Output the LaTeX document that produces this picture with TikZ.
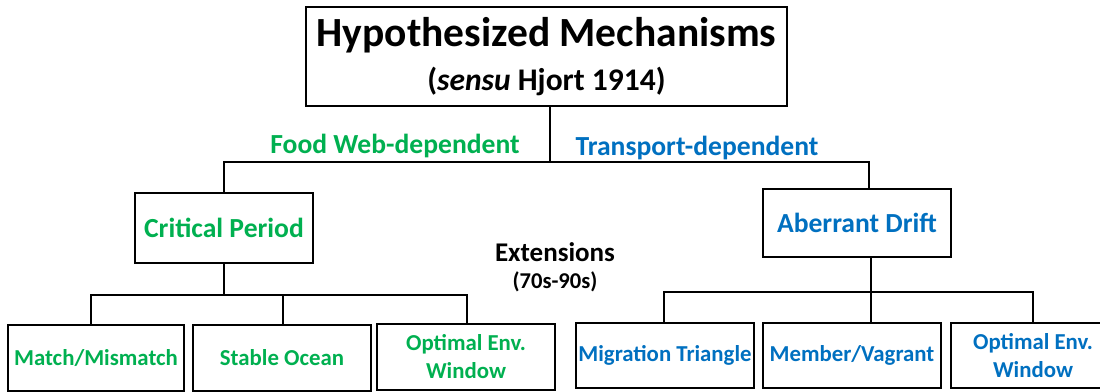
\documentclass[tikz,border=0pt]{standalone}
\usepackage{fontspec}
\setmainfont{Carlito}
\definecolor{cgreen}{HTML}{00B050}
\definecolor{cblue}{HTML}{0070C0}
\begin{document}
\begin{tikzpicture}[x=1pt,y=-1pt,
  box/.style={draw,line width=2.4pt,inner sep=0pt,align=center},
  conn/.style={line width=2.4pt},
  midtext/.style={font=\fontsize{27.6}{30}\selectfont\bfseries},
  lowtext/.style={font=\fontsize{22.8}{28}\selectfont\bfseries},
  lowbox/.style={box,lowtext,minimum height=66pt},
  rbox/.style={box,lowtext,minimum height=65pt}]
\clip (0,0) rectangle (1100,391);
\fill[white] (0,0) rectangle (1100,391);
% top
\node[box,minimum width=481pt,minimum height=99pt,font=\fontsize{41.5}{44}\selectfont\bfseries] (top) at (546.5,56.5)
  {\raisebox{0pt}[0pt][0pt]{}Hypothesized Mechanisms\\{\fontsize{31.5}{44}\selectfont(\textit{sensu} Hjort 1914)}};
% second level
\node[box,midtext,text=cgreen,minimum width=178pt,minimum height=70pt] (cp) at (224,228) {Critical Period};
\node[box,midtext,text=cblue,minimum width=188pt,minimum height=68pt] (ad) at (857,223) {Aberrant Drift};
% branch labels
\node[anchor=base,midtext,text=cgreen,inner sep=0pt] (fw) at (395,153) {Food Web-dependent};
\node[anchor=base,midtext,text=cblue,inner sep=0pt] (td) at (697,155) {Transport-dependent};
\node[font=\fontsize{27}{30}\selectfont\bfseries,inner sep=0pt] (ext) at (555,252) {Extensions};
\node[font=\fontsize{22.6}{26}\selectfont\bfseries,inner sep=0pt] (yrs) at (555,282) {(70s-90s)};
% bottom left
\node[lowbox,text=cgreen,minimum width=176pt] (b1) at (96,358) {Match/Mismatch};
\node[lowbox,text=cgreen,minimum width=178pt] (b2) at (282,358) {Stable Ocean};
\node[lowbox,text=cgreen,minimum width=178pt] (b3) at (466,357) {Optimal Env.\\Window};
% bottom right
\node[rbox,text=cblue,minimum width=178pt] (b4) at (665,355.5) {Migration Triangle};
\node[rbox,text=cblue,minimum width=178pt] (b5) at (852,355.5) {Member/Vagrant};
\node[rbox,text=cblue,minimum width=164pt] (b6) at (1033,355.5) {Optimal Env.\\Window};
% connectors
\coordinate (j1) at (550,162);
\coordinate (j2) at (869,162);
\draw[conn] (j1 |- top.south) -- (j1);
\draw[conn] (cp.north) |- (j2) -- (j2 |- ad.north);
\coordinate (j3) at (224,295);
\coordinate (l1) at (91,295);
\coordinate (l2) at (283,295);
\coordinate (l3) at (467,295);
\draw[conn] (cp.south) -- (j3);
\draw[conn] (l1 |- b1.north) -- (l1) -- (l3) -- (l3 |- b3.north);
\draw[conn] (l2) -- (l2 |- b2.north);
\coordinate (j4) at (871,292);
\coordinate (r1) at (664,292);
\coordinate (r3) at (1033,292);
\draw[conn] (j4 |- ad.south) -- (j4) -- (j4 |- b5.north);
\draw[conn] (r1 |- b4.north) -- (r1) -- (r3) -- (r3 |- b6.north);
\end{tikzpicture}
\end{document}
